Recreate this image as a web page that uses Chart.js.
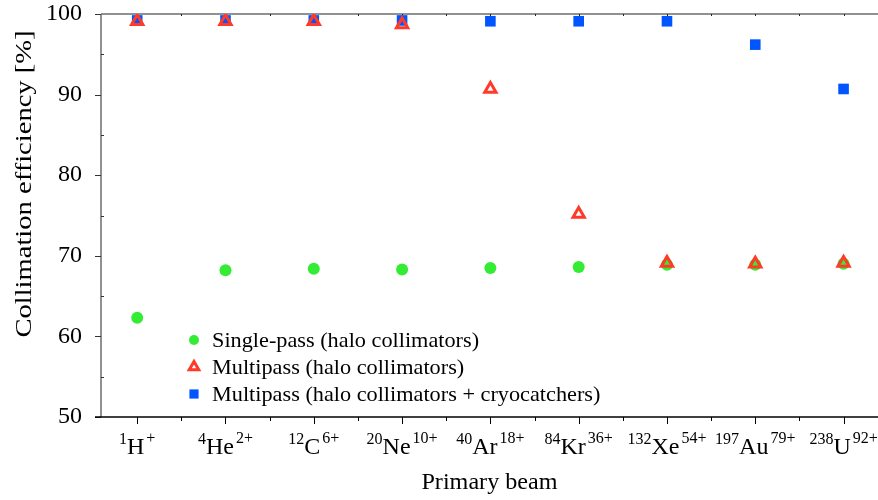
<!DOCTYPE html>
<html>
<head>
<meta charset="utf-8">
<script src="https://cdn.jsdelivr.net/npm/chart.js@4/dist/chart.umd.min.js"></script>
<style>
  html, body { margin: 0; padding: 0; background: #fff; overflow: hidden; }
  #wrap { width: 878px; height: 500px; position: relative; }
  canvas { display: block; }
</style>
</head>
<body>
<div id="wrap"><canvas id="effChart"></canvas></div>
<script>
// beams along the x axis
const elements = ["H", "He", "C", "Ne", "Ar", "Kr", "Xe", "Au", "U"];
const massNumbers = ["1", "4", "12", "20", "40", "84", "132", "197", "238"];
const charges = ["+", "2+", "6+", "10+", "18+", "36+", "54+", "79+", "92+"];

// collimation efficiency [%]
const singlePass = [62.3, 68.2, 68.4, 68.3, 68.5, 68.6, 68.9, 68.9, 69.0];
const multipass = [99.1, 99.1, 99.1, 98.7, 90.7, 75.2, 69.1, 69.0, 69.1];
const multipassCryo = [99.2, 99.2, 99.2, 99.2, 99.1, 99.1, 99.1, 96.2, 90.7];

const yTicks = [50, 60, 70, 80, 90, 100];
const seriesLabels = [
    "Single-pass (halo collimators)",
    "Multipass (halo collimators)",
    "Multipass (halo collimators + cryocatchers)"
];

const SERIF = "'Liberation Serif', 'DejaVu Serif', serif";
const GREY = "#6e6e6e";

function toPoints(values) {
    return values.map((v, i) => ({ x: i, y: v }));
}

// text a little wider than the font gives (the original looks stretched)
function wideText(ctx, text, x, y, stretch) {
    ctx.save();
    ctx.translate(x, y);
    ctx.scale(stretch, 1);
    ctx.fillText(text, 0, 0);
    ctx.restore();
}

// axes, ticks and labels drawn by hand (superscripts on the beam names)
const framePlugin = {
    id: "frame",
    beforeDatasetsDraw(chart) {
        const ctx = chart.ctx;
        const area = chart.chartArea;
        const xs = chart.scales.x;
        const ys = chart.scales.y;
        ctx.save();
        ctx.lineWidth = 1.5;

        // top + left frame in grey
        ctx.strokeStyle = GREY;
        ctx.beginPath();
        ctx.moveTo(area.left, area.top);
        ctx.lineTo(area.right, area.top);
        ctx.moveTo(area.left, area.top);
        ctx.lineTo(area.left, area.bottom);
        ctx.stroke();

        // y ticks
        ctx.strokeStyle = "#333";
        ctx.lineWidth = 1;
        for (let v = 50; v <= 100; v += 5) {
            const py = Math.round(ys.getPixelForValue(v)) + 0.5;
            ctx.beginPath();
            if (v % 10 === 0) {
                ctx.moveTo(area.left - 6, py);
                ctx.lineTo(area.left, py);
            } else {
                ctx.moveTo(area.left, py);
                ctx.lineTo(area.left + 3, py);
            }
            ctx.stroke();
        }

        // bottom axis in black, a bit past the left axis
        ctx.strokeStyle = "#000";
        ctx.lineWidth = 1.5;
        ctx.beginPath();
        ctx.moveTo(area.left - 6, area.bottom);
        ctx.lineTo(area.right, area.bottom);
        ctx.stroke();

        // x ticks: majors on beams, minors between them
        ctx.lineWidth = 1;
        for (let i = 0; i < elements.length; i++) {
            for (const off of [0, 0.5]) {
                const px = Math.round(xs.getPixelForValue(i + off)) + 0.5;
                if (px > area.right) continue;
                ctx.strokeStyle = "#000";
                ctx.beginPath();
                ctx.moveTo(px, area.bottom);
                ctx.lineTo(px, area.bottom + (off === 0 ? 7 : 4));
                ctx.stroke();
                ctx.strokeStyle = "#222";
                ctx.beginPath();
                ctx.moveTo(px, area.top);
                ctx.lineTo(px, area.top + 2);
                ctx.stroke();
            }
        }

        // y tick labels
        ctx.fillStyle = "#000";
        ctx.font = "24px " + SERIF;
        ctx.textAlign = "right";
        ctx.textBaseline = "middle";
        yTicks.forEach(v => {
            ctx.fillText(String(v), area.left - 19, ys.getPixelForValue(v));
        });

        // beam labels: mass number, symbol, charge
        ctx.textBaseline = "alphabetic";
        ctx.textAlign = "left";
        const bigFont = "24px " + SERIF;
        const smallFont = "16px " + SERIF;
        elements.forEach((el, i) => {
            ctx.font = smallFont;
            const wMass = ctx.measureText(massNumbers[i]).width;
            const wCharge = ctx.measureText(charges[i]).width;
            ctx.font = bigFont;
            const wEl = ctx.measureText(el).width;
            const gap = 2;
            const total = wMass + wEl + gap + wCharge;
            let px = xs.getPixelForValue(i) - total / 2;
            ctx.font = smallFont;
            ctx.fillText(massNumbers[i], px, 444);
            px += wMass;
            ctx.font = bigFont;
            ctx.fillText(el, px, 454);
            px += wEl + gap;
            ctx.font = smallFont;
            ctx.fillText(charges[i], px, 443);
        });

        // axis titles
        ctx.font = "23px " + SERIF;
        ctx.textAlign = "center";
        wideText(ctx, "Primary beam", (area.left + area.right) / 2, 489, 1.05);
        ctx.save();
        ctx.translate(31, 184);
        ctx.rotate(-Math.PI / 2);
        ctx.font = "24px " + SERIF;
        wideText(ctx, "Collimation efficiency [%]", 0, 0, 1.19);
        ctx.restore();

        ctx.restore();
    },
    afterDraw(chart) {
        // legend inside the plot
        const ctx = chart.ctx;
        const rows = [340, 367, 394];
        ctx.save();
        ctx.font = "21px " + SERIF;
        ctx.textBaseline = "middle";
        ctx.textAlign = "left";
        chart.data.datasets.forEach((ds, r) => {
            ctx.fillStyle = ds.backgroundColor;
            ctx.strokeStyle = ds.borderColor;
            ctx.lineWidth = ds.borderWidth;
            Chart.helpers.drawPoint(ctx, {
                pointStyle: ds.pointStyle,
                radius: ds.legendRadius,
                rotation: 0,
                borderWidth: ds.borderWidth
            }, 194, rows[r]);
            ctx.fillStyle = "#000";
            wideText(ctx, ds.label, 212, rows[r] + 1, 1.06);
        });
        ctx.restore();
    }
};

const ctx = document.getElementById("effChart").getContext("2d");
new Chart(ctx, {
    type: "scatter",
    data: {
        datasets: [
            {
                label: seriesLabels[0],
                data: toPoints(singlePass),
                pointStyle: "circle",
                pointRadius: 6,
                backgroundColor: "#33ec33",
                borderColor: "#33ec33",
                borderWidth: 0,
                legendRadius: 5,
                order: 2
            },
            {
                label: seriesLabels[1],
                data: toPoints(multipass),
                pointStyle: "triangle",
                pointRadius: 6.5,
                backgroundColor: "rgba(0,0,0,0)",
                borderColor: "#ff3a28",
                borderWidth: 3,
                legendRadius: 5.5,
                order: 1
            },
            {
                label: seriesLabels[2],
                data: toPoints(multipassCryo),
                pointStyle: "rect",
                pointRadius: 7.5,
                backgroundColor: "#0055ff",
                borderColor: "#0055ff",
                borderWidth: 0,
                legendRadius: 6.5,
                order: 3
            }
        ]
    },
    options: {
        responsive: true,
        maintainAspectRatio: false,
        animation: false,
        devicePixelRatio: 1,
        layout: { autoPadding: false, padding: { top: 14, right: 0, left: 0, bottom: 0 } },
        plugins: {
            legend: { display: false },
            tooltip: { enabled: false }
        },
        scales: {
            x: {
                type: "linear",
                min: -0.41,
                max: 8.39,
                grid: { display: false },
                border: { display: false },
                ticks: { display: false },
                afterFit(scale) { scale.height = 83; }
            },
            y: {
                min: 50,
                max: 100,
                grid: { display: false },
                border: { display: false },
                ticks: { display: false },
                afterFit(scale) { scale.width = 101; }
            }
        },
        elements: { point: { hoverRadius: 6 } }
    },
    plugins: [framePlugin]
});
</script>
</body>
</html>
